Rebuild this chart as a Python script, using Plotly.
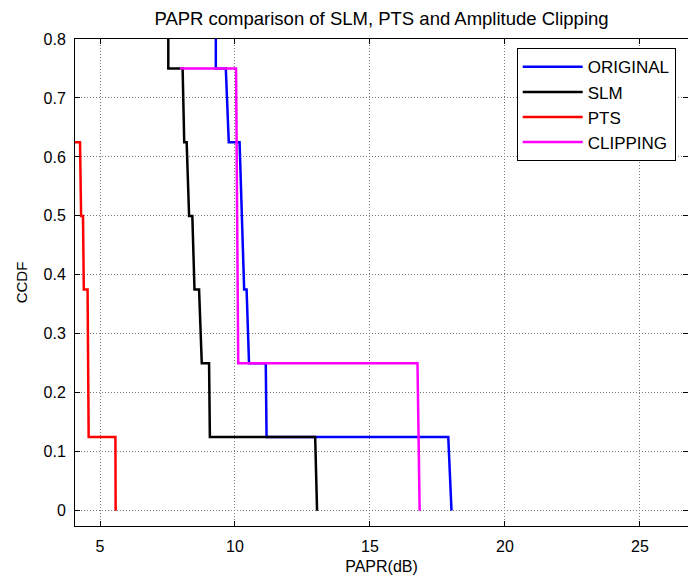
import plotly.graph_objects as go

# ---- data (CCDF polyline vertices) ----
original_x = [9.29, 9.29, 9.66, 9.77, 10.17, 10.34, 10.43, 10.52, 11.14, 11.17, 17.90, 18.02]
original_y = [1.0, 0.75, 0.75, 0.625, 0.625, 0.375, 0.375, 0.25, 0.25, 0.125, 0.125, 0.0]

slm_x = [7.53, 7.53, 8.06, 8.12, 8.21, 8.30, 8.42, 8.50, 8.67, 8.77, 9.04, 9.07, 12.97, 13.04]
slm_y = [1.0, 0.75, 0.75, 0.625, 0.625, 0.5, 0.5, 0.375, 0.375, 0.25, 0.25, 0.125, 0.125, 0.0]

pts_x = [3.90, 3.95, 4.26, 4.30, 4.37, 4.40, 4.54, 4.58, 5.57, 5.58]
pts_y = [0.75, 0.625, 0.625, 0.5, 0.5, 0.375, 0.375, 0.125, 0.125, 0.0]

clip_x = [7.96, 10.04, 10.12, 16.76, 16.84]
clip_y = [0.75, 0.75, 0.25, 0.25, 0.0]

series_names = ["ORIGINAL", "SLM", "PTS", "CLIPPING"]
series_colors = ["#0000ff", "#000000", "#ff0000", "#ff00ff"]

x_ticks = [5, 10, 15, 20, 25]
y_ticks = [0, 0.1, 0.2, 0.3, 0.4, 0.5, 0.6, 0.7, 0.8]
y_tick_text = ["0", "0.1", "0.2", "0.3", "0.4", "0.5", "0.6", "0.7", "0.8"]

FONT = "Liberation Sans, Arial, sans-serif"

fig = go.Figure()
for name, xs, ys, col in zip(series_names,
                             [original_x, slm_x, pts_x, clip_x],
                             [original_y, slm_y, pts_y, clip_y],
                             series_colors):
    fig.add_trace(go.Scatter(x=xs, y=ys, mode="lines", name=name,
                             line=dict(color=col, width=2.5)))

axis_common = dict(
    showline=True, linecolor="black", linewidth=1, mirror="allticks",
    ticks="inside", ticklen=5, tickcolor="black",
    showgrid=True, gridcolor="#7a7a7a", griddash="1px,2px", gridwidth=1,
    zeroline=False,
    tickfont=dict(family=FONT, size=16, color="black"),
)

fig.update_layout(
    width=688, height=579,
    margin=dict(l=75, r=0, t=39, b=53),
    paper_bgcolor="white", plot_bgcolor="white",
    title=dict(text="PAPR comparison of SLM, PTS and Amplitude Clipping",
               x=(75 + 688) / 2 / 688, xanchor="center",
               y=1 - 19 / 579, yanchor="middle", yref="container",
               font=dict(family=FONT, size=18.5, color="black")),
    xaxis=dict(range=[4.074, 26.78], tickvals=x_ticks,
               title=dict(text="PAPR(dB)", standoff=6,
                          font=dict(family=FONT, size=16, color="black")),
               ticklabelstandoff=6, **axis_common),
    yaxis=dict(range=[-0.026, 0.8], tickvals=y_ticks, ticktext=y_tick_text,
               title=dict(text="CCDF", standoff=12,
                          font=dict(family=FONT, size=15, color="black")),
               ticklabelstandoff=5, **axis_common),
    legend=dict(x=0.7206, y=0.981, xanchor="left", yanchor="top",
                bgcolor="white", bordercolor="black", borderwidth=1,
                font=dict(family=FONT, size=17, color="black"),
                itemwidth=60),
    showlegend=True,
)

fig.write_html(
    "out.html",
    config={"displayModeBar": False},
    post_script="document.body.style.margin='0';document.body.style.overflow='hidden';",
)
